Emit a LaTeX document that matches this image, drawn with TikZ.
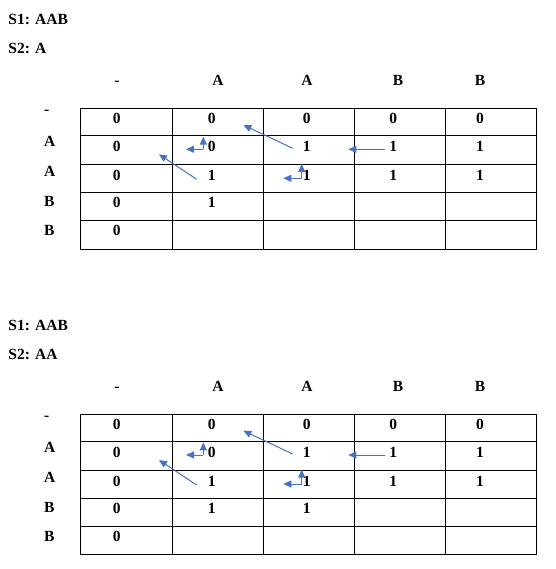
\documentclass[tikz,border=0pt]{standalone}
\usepackage{fontspec}
\setmainfont{Liberation Serif}
\usetikzlibrary{arrows.meta}
\definecolor{arrowblue}{HTML}{4472C4}
\begin{document}
\begin{tikzpicture}[x=1pt,y=-1pt,
  lbl/.style={font=\bfseries\fontsize{15.5}{18}\selectfont, inner sep=0pt, anchor=base},
  gridline/.style={line width=1pt, draw=black},
  arr/.style={draw=arrowblue, line width=1pt, -{Triangle[length=8pt,width=7pt]}}]
\useasboundingbox (0,0) rectangle (555,569);
\def\cells{1/1/0,1/2/0,1/3/0,1/4/0,1/5/0,2/1/0,2/2/0,2/3/1,2/4/1,2/5/1,3/1/0,3/2/1,3/3/1,3/4/1,3/5/1,4/1/0,4/2/1,5/1/0}
\foreach \tb/\off/\stwo in {1/0/A, 2/305.7/AA} {
  % titles
  \node[lbl, anchor=base west] (sa\tb) at (8.3, \off+24.3) {S1: AAB};
  \node[lbl, anchor=base west] (sb\tb) at (8.3, \off+54) {S2: \stwo};
  % column headers
  \foreach \hx/\hlab [count=\i] in {117/-, 218/A, 307/A, 398/B, 480/B}
    \node[lbl] (h\tb\i) at (\hx, \off+85.3) {\hlab};
  % row labels
  \foreach \ry/\rlab [count=\i] in {114.3/-, 146.7/A, 176.7/A, 206.7/B, 235.7/B}
    \node[lbl, anchor=base west] (r\tb\i) at (44, \off+\ry) {\rlab};
  % grid
  \draw[gridline] (80.5, \off+108.3) rectangle (536.5, \off+249);
  \foreach \gx in {172.3,263.3,354.3,445.3}
    \draw[gridline] (\gx, \off+108.3) -- (\gx, \off+249);
  \foreach \gy in {136,165,192.3,220.3}
    \draw[gridline] (80.5, \off+\gy) -- (536.5, \off+\gy);
  % cell values
  \foreach \rr/\cc/\vv in \cells {
    \pgfmathsetmacro\cx{{116.7,211.7,306.7,393.3,480}[\cc-1]}
    \pgfmathsetmacro\cy{{123.6,151.3,180.3,207.6,235.6}[\rr-1]}
    \node[lbl] (c\tb\rr\cc) at (\cx, \off+\cy) {\vv};
  }
  % arrows
  \coordinate (a1s\tb) at (292.7, \off+148.3);
  \coordinate (a1e\tb) at (243.3, \off+125);
  \coordinate (a2s\tb) at (385, \off+149.3);
  \coordinate (a2e\tb) at (348.3, \off+149.3);
  \coordinate (a3s\tb) at (196.7, \off+179.3);
  \coordinate (a3e\tb) at (159, \off+154.3);
  \coordinate (a4c\tb) at (203.3, \off+149.3);
  \coordinate (a4u\tb) at (203.3, \off+136.7);
  \coordinate (a4l\tb) at (186, \off+149.3);
  \coordinate (a5c\tb) at (301.7, \off+178.3);
  \coordinate (a5u\tb) at (301.7, \off+164);
  \coordinate (a5l\tb) at (283.3, \off+178.3);
  \draw[arr] (a1s\tb) -- (a1e\tb);
  \draw[arr] (a2s\tb) -- (a2e\tb);
  \draw[arr] (a3s\tb) -- (a3e\tb);
  \draw[arr] (a4c\tb) -- (a4u\tb);
  \draw[arr] (a4c\tb) -- (a4l\tb);
  \draw[arr] (a5c\tb) -- (a5u\tb);
  \draw[arr] (a5c\tb) -- (a5l\tb);
}
\node[lbl] (c243) at (306.7, 305.7+207.6) {1};
\end{tikzpicture}
\end{document}
